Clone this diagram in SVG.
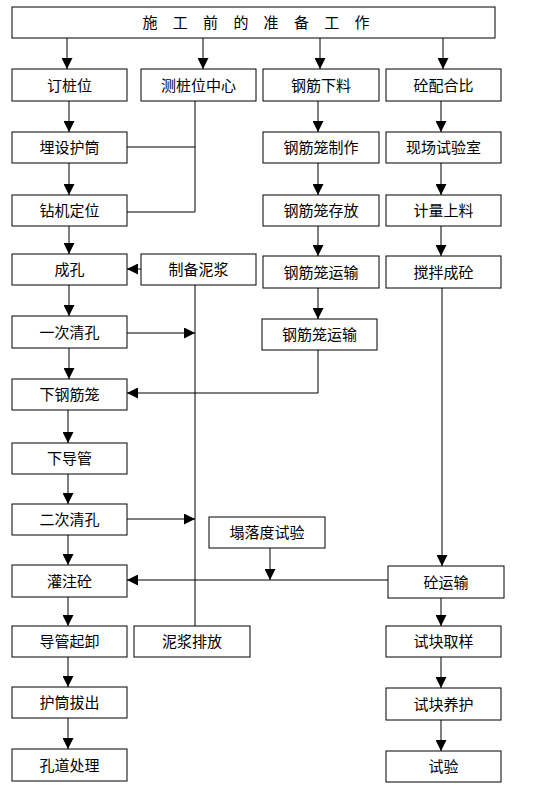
<svg xmlns="http://www.w3.org/2000/svg" width="538" height="794" viewBox="0 0 538 794">
<defs>
<marker id="ah" markerUnits="userSpaceOnUse" markerWidth="11" markerHeight="11" refX="10" refY="5" orient="auto" viewBox="0 0 10 10">
<path d="M0,0 L10,5 L0,10 z" fill="#000"/>
</marker>
<style>
.b{fill:#fff;stroke:#000;stroke-width:1}
.t{font-family:"Noto Sans CJK SC","Noto Sans CJK JP",sans-serif;font-size:15px;fill:#000;text-anchor:middle}
.c line,.c polyline{stroke:#000;stroke-width:1;fill:none}
.a{marker-end:url(#ah)}
</style>
</defs>
<rect width="538" height="794" fill="#fff"/>
<g class="c">
<line class="a" x1="67" y1="38" x2="67" y2="69"/>
<line class="a" x1="203" y1="38" x2="203" y2="69"/>
<line class="a" x1="320" y1="38" x2="320" y2="69"/>
<line class="a" x1="443" y1="38" x2="443" y2="69"/>
<line class="a" x1="69" y1="101" x2="69" y2="132"/>
<line class="a" x1="69" y1="163" x2="69" y2="195"/>
<line class="a" x1="69" y1="226" x2="69" y2="254"/>
<line class="a" x1="69" y1="285" x2="69" y2="316"/>
<line class="a" x1="69" y1="348" x2="69" y2="379"/>
<line class="a" x1="68" y1="410" x2="68" y2="443"/>
<line class="a" x1="68" y1="474" x2="68" y2="504"/>
<line class="a" x1="68" y1="535" x2="68" y2="565"/>
<line class="a" x1="68" y1="597" x2="68" y2="626"/>
<line class="a" x1="68" y1="657" x2="68" y2="687"/>
<line class="a" x1="68" y1="718" x2="68" y2="749"/>
<line class="a" x1="318" y1="101" x2="318" y2="132"/>
<line class="a" x1="318" y1="163" x2="318" y2="195"/>
<line class="a" x1="318" y1="226" x2="318" y2="256"/>
<line class="a" x1="318" y1="288" x2="318" y2="319"/>
<line class="a" x1="441" y1="101" x2="441" y2="132"/>
<line class="a" x1="441" y1="163" x2="441" y2="195"/>
<line class="a" x1="441" y1="226" x2="441" y2="256"/>
<line class="a" x1="442" y1="288" x2="442" y2="566"/>
<line class="a" x1="441" y1="598" x2="441" y2="626"/>
<line class="a" x1="441" y1="657" x2="441" y2="688"/>
<line class="a" x1="441" y1="720" x2="441" y2="751"/>
<polyline points="195,101 195,212 127,212"/>
<line x1="127" y1="147" x2="195" y2="147"/>
<line class="a" x1="141" y1="269" x2="127" y2="269"/>
<line class="a" x1="127" y1="333" x2="195" y2="333"/>
<line x1="195" y1="285" x2="195" y2="626"/>
<line class="a" x1="127" y1="519" x2="195" y2="519"/>
<polyline class="a" points="318,350 318,393 127,393"/>
<line class="a" x1="388" y1="580" x2="127" y2="580"/>
<line class="a" x1="270" y1="548" x2="270" y2="580"/>
</g>
<g id="n0"><rect class="b" x="12" y="7" width="483" height="31"/><text class="t" x="150 180.3 210.6 240.9 271.1 301.4 331.7 362" y="28">施工前的准备工作</text></g>
<g id="n1"><rect class="b" x="12" y="69" width="115" height="32"/><text class="t" x="69.5" y="90.5">订桩位</text></g>
<g id="n2"><rect class="b" x="141" y="69" width="115" height="32"/><text class="t" x="198.5" y="90.5">测桩位中心</text></g>
<g id="n3"><rect class="b" x="263" y="69" width="116" height="32"/><text class="t" x="321" y="90.5">钢筋下料</text></g>
<g id="n4"><rect class="b" x="386" y="69" width="115" height="32"/><text class="t" x="443.5" y="90.5">砼配合比</text></g>
<g id="n5"><rect class="b" x="12" y="132" width="115" height="31"/><text class="t" x="69.5" y="153">埋设护筒</text></g>
<g id="n6"><rect class="b" x="263" y="132" width="116" height="31"/><text class="t" x="321" y="153">钢筋笼制作</text></g>
<g id="n7"><rect class="b" x="386" y="132" width="115" height="31"/><text class="t" x="443.5" y="153">现场试验室</text></g>
<g id="n8"><rect class="b" x="12" y="195" width="115" height="31"/><text class="t" x="69.5" y="216">钻机定位</text></g>
<g id="n9"><rect class="b" x="263" y="195" width="116" height="31"/><text class="t" x="321" y="216">钢筋笼存放</text></g>
<g id="n10"><rect class="b" x="386" y="195" width="115" height="31"/><text class="t" x="443.5" y="216">计量上料</text></g>
<g id="n11"><rect class="b" x="12" y="254" width="115" height="31"/><text class="t" x="69.5" y="275">成孔</text></g>
<g id="n12"><rect class="b" x="141" y="254" width="115" height="31"/><text class="t" x="198.5" y="275">制备泥浆</text></g>
<g id="n13"><rect class="b" x="263" y="256" width="116" height="32"/><text class="t" x="321" y="277.5">钢筋笼运输</text></g>
<g id="n14"><rect class="b" x="386" y="256" width="115" height="32"/><text class="t" x="443.5" y="277.5">搅拌成砼</text></g>
<g id="n15"><rect class="b" x="12" y="316" width="115" height="32"/><text class="t" x="69.5" y="337.5">一次清孔</text></g>
<g id="n16"><rect class="b" x="262" y="319" width="115" height="31"/><text class="t" x="319.5" y="340">钢筋笼运输</text></g>
<g id="n17"><rect class="b" x="12" y="379" width="115" height="31"/><text class="t" x="69.5" y="400">下钢筋笼</text></g>
<g id="n18"><rect class="b" x="12" y="443" width="115" height="31"/><text class="t" x="69.5" y="464">下导管</text></g>
<g id="n19"><rect class="b" x="12" y="504" width="115" height="31"/><text class="t" x="69.5" y="525">二次清孔</text></g>
<g id="n20"><rect class="b" x="209" y="517" width="116" height="31"/><text class="t" x="267" y="538">塌落度试验</text></g>
<g id="n21"><rect class="b" x="12" y="565" width="115" height="32"/><text class="t" x="69.5" y="586.5">灌注砼</text></g>
<g id="n22"><rect class="b" x="388" y="566" width="116" height="32"/><text class="t" x="446" y="587.5">砼运输</text></g>
<g id="n23"><rect class="b" x="12" y="626" width="115" height="31"/><text class="t" x="69.5" y="647">导管起卸</text></g>
<g id="n24"><rect class="b" x="134" y="626" width="116" height="31"/><text class="t" x="192" y="647">泥浆排放</text></g>
<g id="n25"><rect class="b" x="386" y="626" width="115" height="31"/><text class="t" x="443.5" y="647">试块取样</text></g>
<g id="n26"><rect class="b" x="12" y="687" width="115" height="31"/><text class="t" x="69.5" y="708">护筒拔出</text></g>
<g id="n27"><rect class="b" x="386" y="688" width="115" height="32"/><text class="t" x="443.5" y="709.5">试块养护</text></g>
<g id="n28"><rect class="b" x="12" y="749" width="115" height="32"/><text class="t" x="69.5" y="770.5">孔道处理</text></g>
<g id="n29"><rect class="b" x="386" y="751" width="115" height="31"/><text class="t" x="443.5" y="772">试验</text></g>
</svg>
